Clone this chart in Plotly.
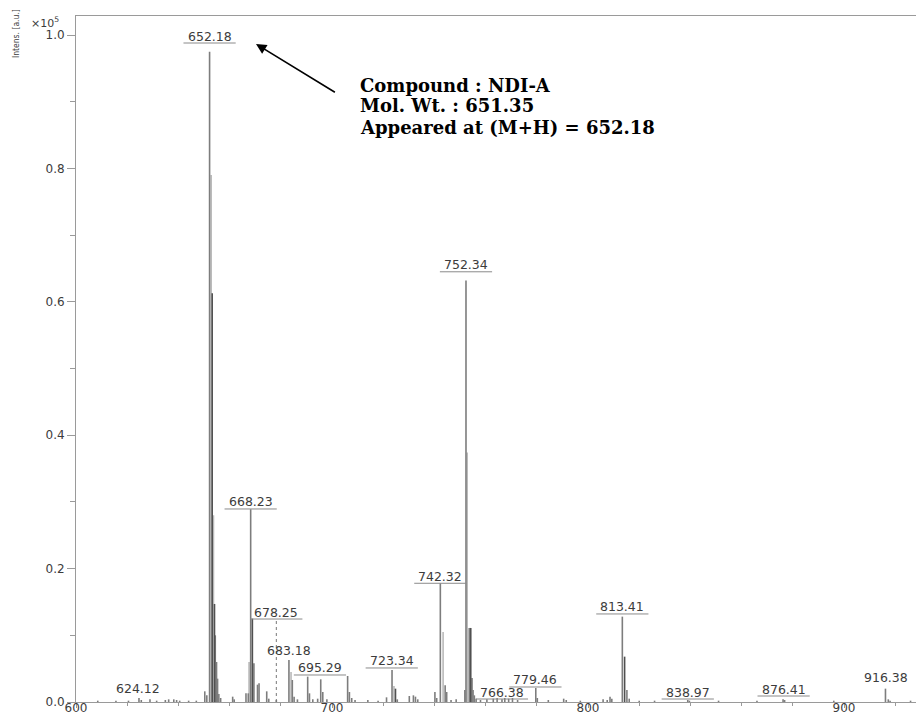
import plotly.graph_objects as go

# ---------------- data (m/z, intensity x1e5) ----------------
mz_gray = [608.5, 615.6, 620.5, 624.6, 625.5, 628.9, 631.5, 634.9, 636.2, 638.2, 639.3, 640.5, 644.0, 647.0,
           650.3, 651.1, 652.18, 654.4, 654.9, 655.3, 655.8, 656.5,
           661.2, 661.8, 666.4, 667.3, 668.23, 669.5, 670.9, 671.5, 674.5, 675.3, 678.25,
           683.18, 684.5, 685.2, 686.5, 690.5, 691.2, 692.5, 694.4, 695.6, 696.4, 698.0,
           706.1, 706.8, 707.7, 709.0, 714.0, 718.0, 721.3, 723.45, 725.5,
           730.2, 731.8, 732.6, 733.5, 740.2, 740.9, 742.32, 744.2, 744.8, 746.5, 748.5,
           751.9, 752.34, 753.6, 754.7, 755.1, 755.6, 756.3, 758.0, 760.5, 763.0, 764.5, 766.4,
           767.5, 769.0, 770.5, 772.5, 779.6, 780.2, 784.5, 790.5, 791.5, 797.0,
           805.9, 807.5, 808.6, 809.3, 813.41, 815.2, 816.1, 820.0, 826.0,
           838.97, 839.6, 851.0, 866.0, 876.2, 876.8, 896.0, 916.2, 917.3, 918.0, 926.0]
int_gray = [0.002, 0.002, 0.002, 0.006, 0.003, 0.004, 0.002, 0.003, 0.004, 0.004, 0.003, 0.002, 0.002, 0.002,
            0.016, 0.010, 0.975, 0.100, 0.060, 0.035, 0.012, 0.006,
            0.008, 0.004, 0.013, 0.013, 0.289, 0.058, 0.026, 0.028, 0.016, 0.005, 0.003,
            0.063, 0.033, 0.008, 0.004, 0.038, 0.013, 0.004, 0.005, 0.034, 0.015, 0.004,
            0.039, 0.015, 0.006, 0.003, 0.003, 0.002, 0.007, 0.048, 0.004,
            0.009, 0.010, 0.008, 0.004, 0.015, 0.006, 0.178, 0.025, 0.015, 0.003, 0.004,
            0.018, 0.632, 0.111, 0.036, 0.018, 0.010, 0.005, 0.003, 0.004, 0.005, 0.006, 0.004,
            0.006, 0.005, 0.006, 0.003, 0.021, 0.006, 0.003, 0.005, 0.003, 0.002,
            0.004, 0.003, 0.008, 0.005, 0.128, 0.018, 0.005, 0.002, 0.002,
            0.003, 0.002, 0.002, 0.002, 0.004, 0.003, 0.002, 0.020, 0.004, 0.002, 0.002]

mz_light = [652.8, 653.7, 667.6, 684.0, 724.2, 743.4, 752.8]
int_light = [0.790, 0.280, 0.060, 0.045, 0.024, 0.105, 0.374]

mz_dark = [653.2, 654.1, 668.9, 724.8, 754.2, 814.3]
int_dark = [0.613, 0.147, 0.125, 0.020, 0.111, 0.068]

# peak labels: text, m/z, label level (intensity units), underlined
label_text = ["652.18", "668.23", "678.25", "683.18", "695.29", "723.34", "742.32", "752.34",
              "766.38", "779.46", "813.41", "838.97", "876.41", "916.38", "624.12"]
label_mz = [652.18, 668.23, 678.25, 683.18, 695.29, 723.34, 742.32, 752.34,
            766.38, 779.46, 813.41, 838.97, 876.41, 916.38, 624.12]
label_level = [0.988, 0.2894, 0.1244, 0.066, 0.0405, 0.051, 0.178, 0.645,
               0.0045, 0.0225, 0.132, 0.0045, 0.009, 0.0255, 0.0105]
label_underline = [True, True, True, False, True, True, True, True,
                   True, True, True, True, True, False, False]

info_lines = ["Compound : NDI-A", "Mol. Wt. : 651.35", "Appeared at (M+H) = 652.18"]
info_level = [0.925, 0.8936, 0.862]

x_range = [600, 931.25]
y_range = [0, 1.0285]


def sticks(mz, inten):
    xs, ys = [], []
    for m, h in zip(mz, inten):
        xs += [m, m, None]
        ys += [0, h, None]
    return xs, ys


fig = go.Figure()
for mz, inten, col in [(mz_light, int_light, "#b9b9b9"),
                       (mz_gray, int_gray, "#7d7d7d"),
                       (mz_dark, int_dark, "#505050")]:
    xs, ys = sticks(mz, inten)
    fig.add_trace(go.Scatter(x=xs, y=ys, mode="lines",
                             line=dict(color=col, width=1.6),
                             hoverinfo="skip", showlegend=False))

annotations = []
shapes = []
half_w = 10.2
for t, m, lv, ul in zip(label_text, label_mz, label_level, label_underline):
    annotations.append(dict(x=m, y=lv, xref="x", yref="y", text=t, showarrow=False,
                            xanchor="center", yanchor="middle", yshift=7,
                            font=dict(family="DejaVu Sans", size=12.5, color="#3c3c3c")))
    if ul:
        shapes.append(dict(type="line", xref="x", yref="y", x0=m - half_w, x1=m + half_w,
                           y0=lv, y1=lv, line=dict(color="#8a8a8a", width=1)))

# dotted leader for 678.25
shapes.append(dict(type="line", xref="x", yref="y", x0=678.25, x1=678.25,
                   y0=0, y1=label_level[2], line=dict(color="#777777", width=1, dash="dot")))

# info text
for s, lv in zip(info_lines, info_level):
    annotations.append(dict(x=710.0, y=lv, xref="x", yref="y", text="<b>%s</b>" % s,
                            showarrow=False, xanchor="left", yanchor="middle", align="left",
                            font=dict(family="DejaVu Serif", size=18, color="#000000")))
# arrow
annotations.append(dict(x=670.3, y=0.9865, xref="x", yref="y", ax=702.3, ay=0.9115,
                        axref="x", ayref="y", text=" ", showarrow=True, arrowhead=2,
                        arrowsize=1.3, arrowwidth=1.6, arrowcolor="#000000"))
# exponent and axis title
annotations.append(dict(x=-0.037, y=0.991, xref="paper", yref="paper", text="×10<sup>5</sup>",
                        showarrow=False, xanchor="center", yanchor="middle",
                        font=dict(family="DejaVu Sans", size=11, color="#3c3c3c")))
annotations.append(dict(x=-0.0705, y=0.974, xref="paper", yref="paper", text="Intens. [a.u.]",
                        showarrow=False, xanchor="center", yanchor="middle", textangle=-90,
                        font=dict(family="DejaVu Sans Condensed", size=8.5, color="#3c3c3c")))

axis_col = "#9a9a9a"
# the page body adds an 8px offset; margins compensate so the plot area sits where the reference has it
fig.update_layout(
    width=916, height=710,
    margin=dict(l=68, r=0, t=8, b=16, autoexpand=False),
    plot_bgcolor="white", paper_bgcolor="white",
    showlegend=False,
    annotations=annotations, shapes=shapes,
    xaxis=dict(range=x_range, showline=True, linecolor=axis_col, linewidth=1, mirror=True,
               ticks="outside", ticklen=5, tickcolor=axis_col, tick0=600, dtick=100,
               minor=dict(dtick=20, ticklen=3, ticks="outside", tickcolor=axis_col),
               showgrid=False, zeroline=False, ticklabelstandoff=-10,
               tickfont=dict(family="DejaVu Sans", size=12, color="#3c3c3c")),
    yaxis=dict(range=y_range, showline=True, linecolor=axis_col, linewidth=1,
               ticks="outside", ticklen=8, tickcolor=axis_col, tick0=0, dtick=0.2,
               tickformat=".1f",
               minor=dict(dtick=0.1, ticklen=5, ticks="outside", tickcolor=axis_col),
               showgrid=False, zeroline=False,
               tickfont=dict(family="DejaVu Sans", size=12, color="#3c3c3c")),
)

fig.write_html("out.html")
